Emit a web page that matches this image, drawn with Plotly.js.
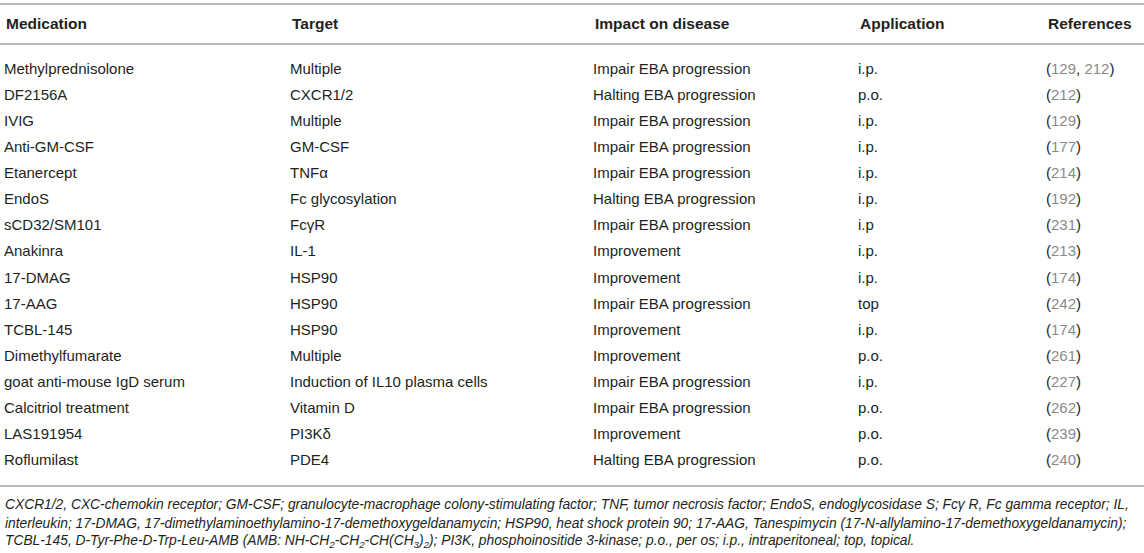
<!DOCTYPE html>
<html>
<head>
<meta charset="utf-8">
<script src="https://cdn.plot.ly/plotly-3.0.1.min.js"></script>
<style>
  html, body { margin: 0; padding: 0; background: #fff; }
  #table-plot { width: 1144px; height: 553px; }
</style>
</head>
<body>
<div id="table-plot"></div>
<script>
// table contents, one array per column
var headers = ["Medication", "Target", "Impact on disease", "Application", "References"];

var medications = ["Methylprednisolone", "DF2156A", "IVIG", "Anti-GM-CSF", "Etanercept", "EndoS",
  "sCD32/SM101", "Anakinra", "17-DMAG", "17-AAG", "TCBL-145", "Dimethylfumarate",
  "goat anti-mouse IgD serum", "Calcitriol treatment", "LAS191954", "Roflumilast"];

var targets = ["Multiple", "CXCR1/2", "Multiple", "GM-CSF", "TNFα", "Fc glycosylation",
  "FcγR", "IL-1", "HSP90", "HSP90", "HSP90", "Multiple",
  "Induction of IL10 plasma cells", "Vitamin D", "PI3Kδ", "PDE4"];

var impacts = ["Impair EBA progression", "Halting EBA progression", "Impair EBA progression",
  "Impair EBA progression", "Impair EBA progression", "Halting EBA progression",
  "Impair EBA progression", "Improvement", "Improvement", "Impair EBA progression",
  "Improvement", "Improvement", "Impair EBA progression", "Impair EBA progression",
  "Improvement", "Halting EBA progression"];

var applications = ["i.p.", "p.o.", "i.p.", "i.p.", "i.p.", "i.p.", "i.p", "i.p.", "i.p.", "top",
  "i.p.", "p.o.", "i.p.", "p.o.", "p.o.", "p.o."];

var references = [[129, 212], [212], [129], [177], [214], [192], [231], [213], [174], [242],
  [174], [261], [227], [262], [239], [240]];

var footnoteLines = [
  "CXCR1/2, CXC-chemokin receptor; GM-CSF; granulocyte-macrophage colony-stimulating factor; TNF, tumor necrosis factor; EndoS, endoglycosidase S; Fcγ R, Fc gamma receptor; IL,",
  "interleukin; 17-DMAG, 17-dimethylaminoethylamino-17-demethoxygeldanamycin; HSP90, heat shock protein 90; 17-AAG, Tanespimycin (17-N-allylamino-17-demethoxygeldanamycin);",
  "TCBL-145, D-Tyr-Phe-D-Trp-Leu-AMB (AMB: NH-CH<sub>2</sub>-CH<sub>2</sub>-CH(CH<sub>3</sub>)<sub>2</sub>); PI3K, phosphoinositide 3-kinase; p.o., per os; i.p., intraperitoneal; top, topical."
];

// layout bits
var colX = [4, 290, 593, 858, 1046];
var rowIdx = medications.map((m, i) => i);
var textColor = "#231f20";
var font = "Liberation Sans, Arial, Helvetica, sans-serif";

// reference cells: dark brackets, grey numbers
var refText = references.map(r =>
  "(" + r.map(n => "<span style='color:#8a8a8a'>" + n + "</span>").join(", ") + ")");

var columns = [medications, targets, impacts, applications, refText];

var data = columns.map((col, c) => ({
  x: col.map(() => colX[c]),
  y: rowIdx,
  text: col,
  mode: "text",
  type: "scatter",
  textposition: "middle right",
  textfont: {family: font, size: 15, color: textColor},
  hoverinfo: "skip",
  showlegend: false
}));

var headerRow = -1.8;
var annotations = headers.map((h, c) => ({
  x: colX[c], y: headerRow, xref: "x", yref: "y",
  text: "<b>" + h + "</b>", showarrow: false,
  xanchor: "left", yanchor: "middle",
  font: {family: font, size: 15.5, color: textColor}
}));

var footY = [504, 523, 541];
footnoteLines.forEach((t, i) => {
  annotations.push({
    x: 3, y: 1 - footY[i] / 553, xref: "x", yref: "paper",
    text: "<i>" + t + "</i>", showarrow: false,
    xanchor: "left", yanchor: "middle",
    font: {family: font, size: 13.8, color: textColor}
  });
});

var rule = y => ({type: "line", xref: "paper", yref: "y", x0: 0, x1: 1, y0: y, y1: y,
  line: {color: "#b8b8b8", width: 2}});

var layout = {
  width: 1144,
  height: 553,
  margin: {l: 0, r: 0, t: 0, b: 0},
  paper_bgcolor: "#fff",
  plot_bgcolor: "#fff",
  xaxis: {range: [0, 1144], visible: false, fixedrange: true},
  yaxis: {range: [18.506, -2.682], visible: false, fixedrange: true},
  shapes: [rule(-2.529), rule(-0.996), rule(15.939)],
  annotations: annotations
};

Plotly.newPlot("table-plot", data, layout, {displayModeBar: false, staticPlot: true});
</script>
</body>
</html>
